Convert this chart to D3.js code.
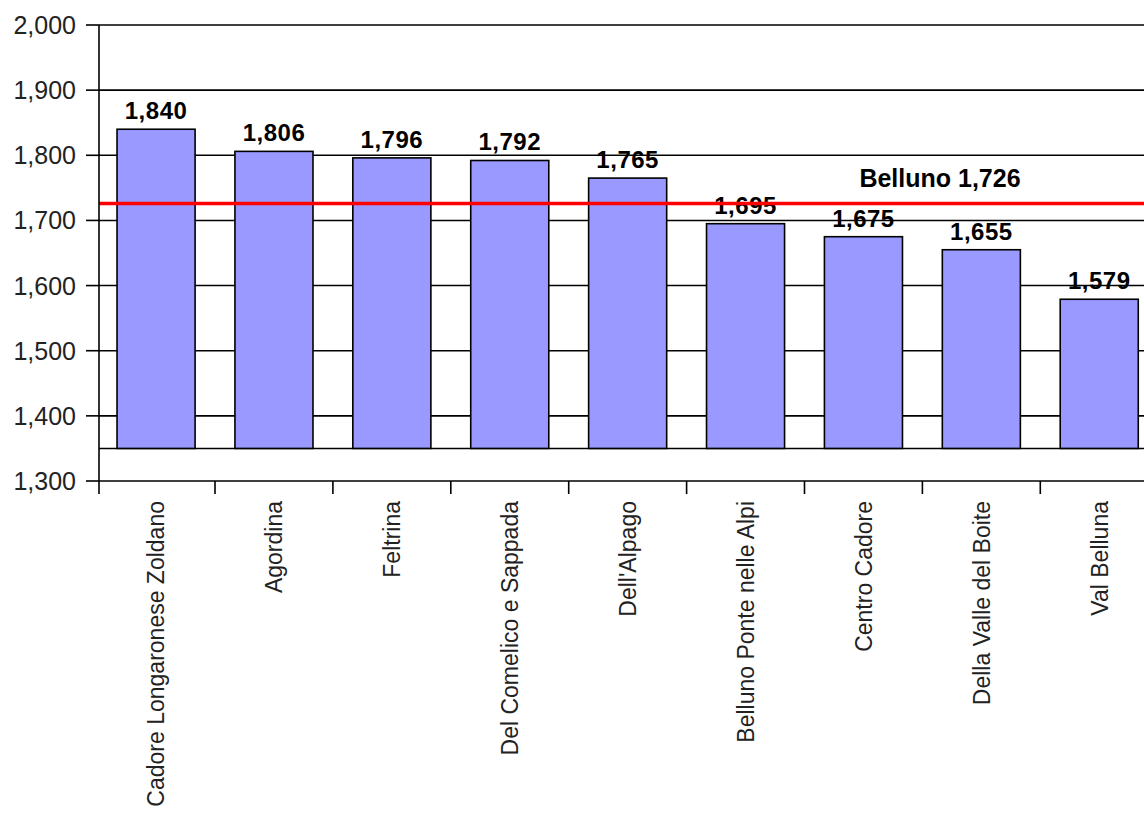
<!DOCTYPE html>
<html>
<head>
<meta charset="utf-8">
<script src="https://cdn.jsdelivr.net/npm/d3@7"></script>
<style>
  html, body { margin: 0; padding: 0; background: #fff; }
  svg { display: block; font-family: Arial, "Liberation Sans", sans-serif; }
</style>
</head>
<body>
<svg id="chart" width="1144" height="817"></svg>
<script>
// Districts of the province of Belluno
const categories = [
  "Cadore Longaronese Zoldano", "Agordina", "Feltrina", "Del Comelico e Sappada",
  "Dell'Alpago", "Belluno Ponte nelle Alpi", "Centro Cadore", "Della Valle del Boite", "Val Belluna"
];
const values = [1840, 1806, 1796, 1792, 1765, 1695, 1675, 1655, 1579];
const provinceLabel = "Belluno";
const provinceValue = 1726;
const yTicks = [1300, 1400, 1500, 1600, 1700, 1800, 1900, 2000];
const yDomain = [1300, 2000];
const barBase = 1350;

const svg = d3.select("#chart");
const fmt = d3.format(",");

const y = d3.scaleLinear().domain(yDomain).range([481, 25]);
const x = d3.scaleBand().domain(categories).range([99, 1156.3])
  .paddingInner(0.338).paddingOuter(0.153);

const left = 99, right = 1170;
const halfGap = (x.step() - x.bandwidth()) / 2;

// horizontal gridlines
svg.append("g").selectAll("line").data(yTicks.filter(t => t > yDomain[0]))
  .join("line")
  .attr("x1", left).attr("x2", right)
  .attr("y1", d => y(d)).attr("y2", d => y(d))
  .attr("stroke", "#000").attr("stroke-width", 1.6);

// floor line where the bars start
svg.append("line")
  .attr("x1", left).attr("x2", right)
  .attr("y1", y(barBase)).attr("y2", y(barBase))
  .attr("stroke", "#000").attr("stroke-width", 1.6);

// bars
svg.append("g").selectAll("rect").data(values)
  .join("rect")
  .attr("x", (d, i) => x(categories[i]))
  .attr("width", x.bandwidth())
  .attr("y", d => y(d))
  .attr("height", d => y(barBase) - y(d))
  .attr("fill", "#9999ff")
  .attr("stroke", "#000").attr("stroke-width", 1.6);

// value labels
svg.append("g").selectAll("text").data(values)
  .join("text")
  .attr("x", (d, i) => x(categories[i]) + x.bandwidth() / 2)
  .attr("y", d => y(d) - 10)
  .attr("text-anchor", "middle")
  .attr("font-weight", "bold")
  .attr("font-size", 24)
  .attr("letter-spacing", 0.5)
  .attr("fill", "#000")
  .text(d => fmt(d));

// province reference line
svg.append("line")
  .attr("x1", left).attr("x2", right)
  .attr("y1", y(provinceValue)).attr("y2", y(provinceValue))
  .attr("stroke", "#ff0000").attr("stroke-width", 3.5);

svg.append("text")
  .attr("x", 940)
  .attr("y", y(provinceValue) - 16)
  .attr("text-anchor", "middle")
  .attr("font-weight", "bold")
  .attr("font-size", 25)
  .attr("fill", "#000")
  .text(provinceLabel + " " + fmt(provinceValue));

// y axis
const yAxis = svg.append("g");
yAxis.append("line")
  .attr("x1", left).attr("x2", left)
  .attr("y1", y(yDomain[1])).attr("y2", y(yDomain[0]) + 13)
  .attr("stroke", "#000").attr("stroke-width", 1.6);
yAxis.selectAll(".tk").data(yTicks).join("line")
  .attr("x1", left - 13).attr("x2", left)
  .attr("y1", d => y(d)).attr("y2", d => y(d))
  .attr("stroke", "#000").attr("stroke-width", 1.6);
yAxis.selectAll("text").data(yTicks).join("text")
  .attr("x", left - 23)
  .attr("y", d => y(d))
  .attr("dy", "0.36em")
  .attr("text-anchor", "end")
  .attr("font-size", 25)
  .attr("fill", "#222")
  .text(d => fmt(d));

// x axis
const xAxis = svg.append("g");
xAxis.append("line")
  .attr("x1", left).attr("x2", right)
  .attr("y1", y(yDomain[0])).attr("y2", y(yDomain[0]))
  .attr("stroke", "#000").attr("stroke-width", 1.6);
const bounds = categories.map(c => x(c) - halfGap);
bounds.push(x(categories[categories.length - 1]) + x.bandwidth() + halfGap);
xAxis.selectAll(".tk").data(bounds.slice(1)).join("line")
  .attr("x1", d => d).attr("x2", d => d)
  .attr("y1", y(yDomain[0])).attr("y2", y(yDomain[0]) + 13)
  .attr("stroke", "#000").attr("stroke-width", 1.6);
xAxis.selectAll("text").data(categories).join("text")
  .attr("transform", d => `translate(${x(d) + x.bandwidth() / 2},${y(yDomain[0]) + 20}) rotate(-90)`)
  .attr("dy", "0.36em")
  .attr("text-anchor", "end")
  .attr("font-size", 23)
  .attr("fill", "#222")
  .text(d => d);
</script>
</body>
</html>
